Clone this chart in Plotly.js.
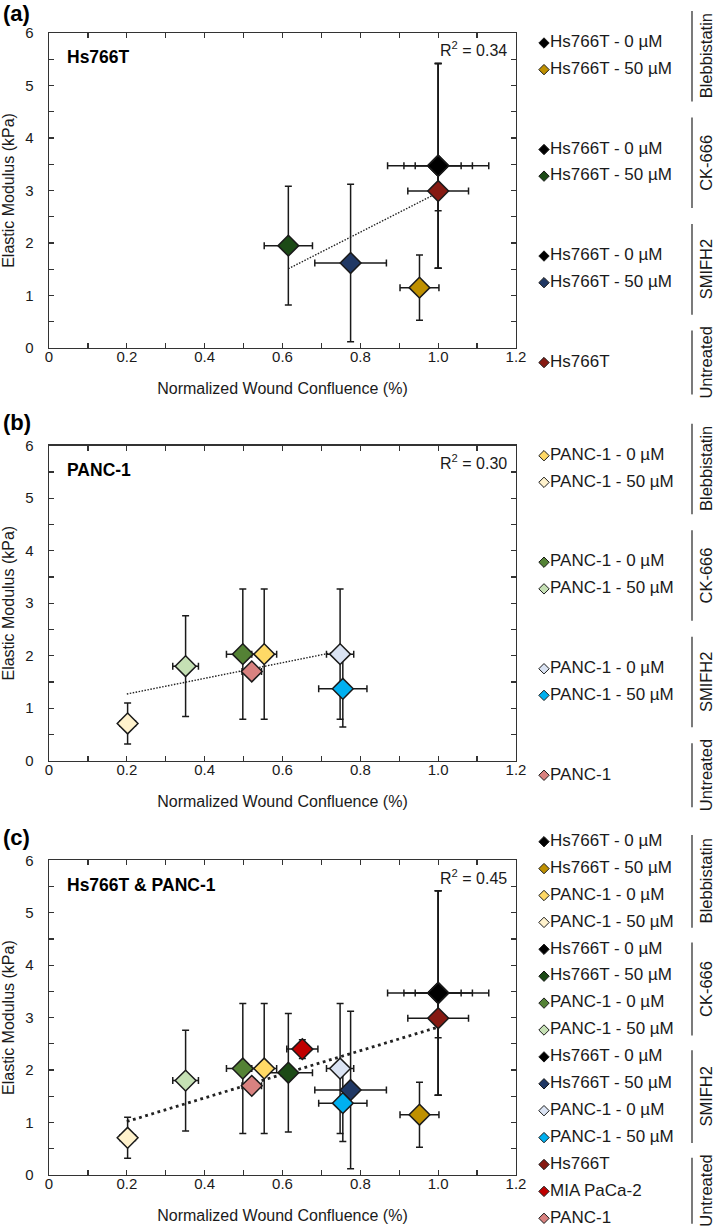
<!DOCTYPE html>
<html>
<head>
<meta charset="utf-8">
<script src="https://cdn.plot.ly/plotly-3.0.1.min.js"></script>
<style>
html, body { margin: 0; padding: 0; background: #ffffff; }
#chart { width: 714px; height: 1230px; }
</style>
</head>
<body>
<div id="chart"></div>
<script>
// ---------------- data ----------------
const seriesLabels = [
  'Hs766T - 0 µM', 'Hs766T - 50 µM', 'PANC-1 - 0 µM', 'PANC-1 - 50 µM',
  'Hs766T - 0 µM', 'Hs766T - 50 µM', 'PANC-1 - 0 µM', 'PANC-1 - 50 µM',
  'Hs766T - 0 µM', 'Hs766T - 50 µM', 'PANC-1 - 0 µM', 'PANC-1 - 50 µM',
  'Hs766T', 'MIA PaCa-2', 'PANC-1'
];
const treatmentGroup = [
  'Blebbistatin', 'Blebbistatin', 'Blebbistatin', 'Blebbistatin',
  'CK-666', 'CK-666', 'CK-666', 'CK-666',
  'SMIFH2', 'SMIFH2', 'SMIFH2', 'SMIFH2',
  'Untreated', 'Untreated', 'Untreated'
];
const cellLine = [
  'Hs766T', 'Hs766T', 'PANC-1', 'PANC-1',
  'Hs766T', 'Hs766T', 'PANC-1', 'PANC-1',
  'Hs766T', 'Hs766T', 'PANC-1', 'PANC-1',
  'Hs766T', 'MIA PaCa-2', 'PANC-1'
];
// Normalized wound confluence (x) and its error
const confluence    = [1.00, 0.952, 0.553, 0.202, 1.00, 0.615, 0.498, 0.351, 1.00, 0.775, 0.748, 0.755, 1.00, 0.651, 0.521];
const confluenceErr = [0.130, 0.050, 0.032, 0.020, 0.088, 0.062, 0.042, 0.033, 0.059, 0.092, 0.035, 0.062, 0.078, 0.040, 0.025];
// Elastic modulus (kPa) (y) and its error
const modulus    = [3.47, 1.15, 2.03, 0.71, 3.47, 1.95, 2.03, 1.80, 3.47, 1.62, 2.03, 1.37, 2.99, 2.40, 1.70];
const modulusErr = [1.95, 0.62, 1.24, 0.39, 1.95, 1.13, 1.24, 0.96, 1.95, 1.50, 1.24, 0.73, 0.375, 0.18, 0.12];
const markerColors = [
  '#000000', '#BF9000', '#FFD966', '#FFF2CC',
  '#000000', '#1C4A16', '#548235', '#C5E0B4',
  '#000000', '#203864', '#DAE3F3', '#00B0F0',
  '#861A12', '#C00000', '#D98280'
];

const panelLetters = ['(a)', '(b)', '(c)'];
const panelTitles = ['Hs766T', 'PANC-1', 'Hs766T & PANC-1'];
const panelCellLines = [['Hs766T'], ['PANC-1'], ['Hs766T', 'MIA PaCa-2', 'PANC-1']];
const rSquared = [0.34, 0.30, 0.45];
const trendX = [[0.615, 1.00], [0.20, 0.756], [0.20, 1.00]];
const trendY = [[1.51, 2.96], [1.27, 2.10], [1.02, 2.82]];

const xTickVals = [0, 0.2, 0.4, 0.6, 0.8, 1.0, 1.2];
const xTickText = ['0', '0.2', '0.4', '0.6', '0.8', '1.0', '1.2'];
const yTickVals = [0, 1, 2, 3, 4, 5, 6];
const xTitle = 'Normalized Wound Confluence (%)';
const yTitle = 'Elastic Modulus (kPa)';

// ---------------- layout geometry (px) ----------------
const W = 714, H = 1230;
const FONT = '"Liberation Sans", Arial, Helvetica, sans-serif';
const INK = '#1a1a1a';
const AXIS = '#333333';
const plotLeft = 49, plotRight = 516;
const plotTop = [33, 445.7, 860.3];
const plotBottom = [348, 760.7, 1175];
const letterY = [14, 423, 837];
const legendFirstRow = [43, 455.7, 841.7];
const legendRowPx = [26.63, 26.63, 26.9];
const legendGroupStep = [3, 3, 1];
const legendDomain = [[0, 405], [405, 815], [815, 1230]];
const bracketPad = [[1.2, 1.2], [1.2, 1.2], [0.25, 0.2]];
const trendStyle = [
  {width: 1.4, dash: '1.5px,1.5px'},
  {width: 1.4, dash: '1.5px,1.5px'},
  {width: 2.8, dash: '2.8px,3.6px'}
];

const fx = p => p / W;
const fy = p => 1 - p / H;

const traces = [];
const layout = {
  width: W, height: H,
  margin: {l: 0, r: 0, t: 0, b: 0},
  paper_bgcolor: '#ffffff', plot_bgcolor: '#ffffff',
  showlegend: false,
  font: {family: FONT, color: INK, size: 15},
  annotations: [], shapes: []
};

panelLetters.forEach((letter, k) => {
  const n = k + 1;
  const xa = n === 1 ? 'x' : 'x' + n;
  const ya = n === 1 ? 'y' : 'y' + n;
  const xKey = n === 1 ? 'xaxis' : 'xaxis' + n;
  const yKey = n === 1 ? 'yaxis' : 'yaxis' + n;
  const lx = 'x' + (n + 3), ly = 'y' + (n + 3);

  const idx = seriesLabels.map((_, i) => i).filter(i => panelCellLines[k].includes(cellLine[i]));

  // regression line
  traces.push({
    type: 'scatter', mode: 'lines', x: trendX[k], y: trendY[k],
    xaxis: xa, yaxis: ya, hoverinfo: 'skip',
    line: {color: '#222222', width: trendStyle[k].width, dash: trendStyle[k].dash}
  });
  // data points
  traces.push({
    type: 'scatter', mode: 'markers',
    x: idx.map(i => confluence[i]), y: idx.map(i => modulus[i]),
    xaxis: xa, yaxis: ya, cliponaxis: false,
    error_x: {type: 'data', array: idx.map(i => confluenceErr[i]), color: INK, thickness: 1.5, width: 3.5},
    error_y: {type: 'data', array: idx.map(i => modulusErr[i]), color: INK, thickness: 1.5, width: 3.5},
    marker: {symbol: 'diamond', size: 16, color: idx.map(i => markerColors[i]), line: {color: INK, width: 1.5}}
  });

  // legend rows
  const slots = [];
  let s = 0;
  idx.forEach((i, j) => {
    if (j > 0) s += (treatmentGroup[i] !== treatmentGroup[idx[j - 1]]) ? legendGroupStep[k] : 1;
    slots.push(s);
  });
  traces.push({
    type: 'scatter', mode: 'markers+text',
    x: idx.map(() => 0), y: slots,
    text: idx.map(i => seriesLabels[i]),
    textposition: 'middle right',
    textfont: {family: FONT, size: 17, color: INK},
    xaxis: lx, yaxis: ly, cliponaxis: false, hoverinfo: 'skip',
    marker: {symbol: 'diamond', size: 8, color: idx.map(i => markerColors[i]), line: {color: INK, width: 1}}
  });

  // group brackets + labels
  const groups = [];
  idx.forEach((i, j) => {
    const g = treatmentGroup[i];
    if (!groups.length || groups[groups.length - 1].name !== g) groups.push({name: g, first: slots[j], last: slots[j]});
    else groups[groups.length - 1].last = slots[j];
  });
  groups.forEach(g => {
    const y0 = g.first - bracketPad[k][0], y1 = g.last + bracketPad[k][1];
    layout.shapes.push({type: 'line', xref: 'paper', yref: ly, x0: fx(692), x1: fx(692), y0: y0, y1: y1,
      line: {color: AXIS, width: 1.3}});
    layout.annotations.push({xref: 'paper', yref: ly, x: fx(706), y: (y0 + y1) / 2, text: g.name,
      textangle: -90, showarrow: false, xanchor: 'center', yanchor: 'middle',
      font: {family: FONT, size: 16.5, color: INK}});
  });

  // axes
  const rowPx = legendRowPx[k];
  const dTop = legendDomain[k][0], dBot = legendDomain[k][1];
  layout['xaxis' + (n + 3)] = {domain: [fx(544), fx(690)], range: [0, 1], visible: false, fixedrange: true, anchor: ly};
  layout['yaxis' + (n + 3)] = {domain: [fy(dBot), fy(dTop)], anchor: lx, visible: false, fixedrange: true,
    range: [(dBot - legendFirstRow[k]) / rowPx, (dTop - legendFirstRow[k]) / rowPx]};

  const common = {
    ticks: 'inside', ticklen: 5, tickwidth: 1.2, tickcolor: AXIS,
    showline: true, linecolor: AXIS, linewidth: 1.3, mirror: 'ticks',
    showgrid: false, zeroline: false, fixedrange: true,
    tickfont: {family: FONT, size: 15, color: INK}
  };
  layout[xKey] = Object.assign({}, common, {
    domain: [fx(plotLeft), fx(plotRight)], anchor: ya, range: [0, 1.2],
    tickmode: 'array', tickvals: xTickVals, ticktext: xTickText, ticklabelstandoff: -5,
    minor: {tickmode: 'linear', tick0: 0, dtick: 0.1, ticks: 'inside', ticklen: 5, tickwidth: 1.2, tickcolor: AXIS, showgrid: false},
    title: {text: xTitle, font: {family: FONT, size: 16, color: INK}, standoff: 18}
  });
  layout[yKey] = Object.assign({}, common, {
    domain: [fy(plotBottom[k]), fy(plotTop[k])], anchor: xa, range: [0, 6],
    tickmode: 'array', tickvals: yTickVals, ticklabelstandoff: 11,
    minor: {tickmode: 'linear', tick0: 0, dtick: 0.5, ticks: 'inside', ticklen: 5, tickwidth: 1.2, tickcolor: AXIS, showgrid: false},
    title: {text: yTitle, font: {family: FONT, size: 16, color: INK}, standoff: 7}
  });

  // annotations (paper coordinates)
  layout.annotations.push({xref: 'paper', yref: 'paper', x: fx(1), y: fy(letterY[k]), xanchor: 'left', yanchor: 'middle',
    text: letter, showarrow: false, font: {family: FONT, size: 22, color: '#000000', weight: 'bold'}});
  layout.annotations.push({xref: 'paper', yref: 'paper', x: fx(65), y: fy(plotTop[k] + 24.3), xanchor: 'left', yanchor: 'middle',
    text: panelTitles[k], showarrow: false, font: {family: FONT, size: 17.5, color: '#000000', weight: 'bold'}});
  layout.annotations.push({xref: 'paper', yref: 'paper', x: fx(509), y: fy(plotTop[k] + 16.4), xanchor: 'right', yanchor: 'middle',
    text: 'R<sup>2</sup> = ' + rSquared[k].toFixed(2), showarrow: false, font: {family: FONT, size: 16, color: INK}});
});

Plotly.newPlot('chart', traces, layout, {staticPlot: true, displayModeBar: false});
</script>
</body>
</html>
